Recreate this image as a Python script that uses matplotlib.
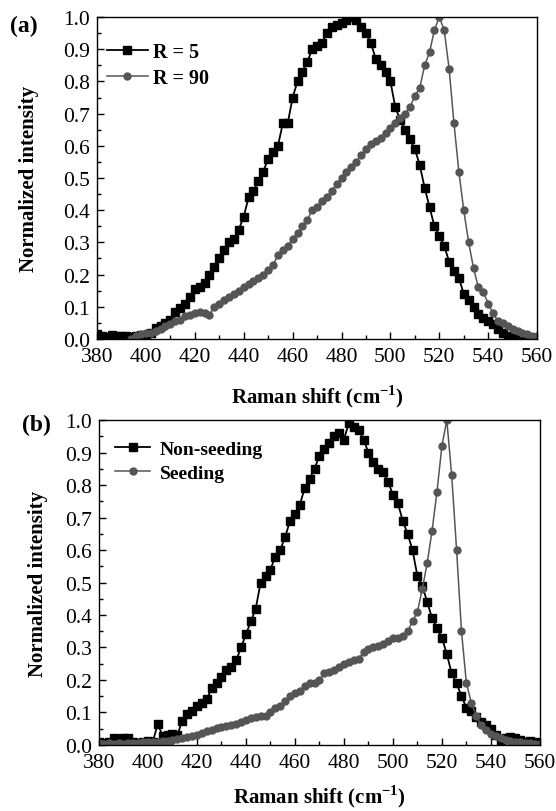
import numpy as np
import matplotlib
matplotlib.use("Agg")
from matplotlib import pyplot as plt
from matplotlib.ticker import MultipleLocator

plt.rcParams['font.family'] = ['Liberation Serif', 'DejaVu Serif']
plt.rcParams['mathtext.fontset'] = 'custom'
plt.rcParams['mathtext.rm'] = 'Liberation Serif'
plt.rcParams['mathtext.bf'] = 'Liberation Serif:bold'

# Raman shift grid (cm-1), one reading every 2 cm-1
shift = np.arange(380, 561, 2)

# panel (a)
r5 = [0.015, 0.010, 0.005, 0.012, 0.010, 0.008, 0.010, 0.005, 0.010, 0.012,
      0.010, 0.020, 0.035, 0.040, 0.050, 0.060, 0.085, 0.095, 0.110, 0.130,
      0.155, 0.160, 0.175, 0.200, 0.225, 0.250, 0.275, 0.300, 0.310, 0.340,
      0.380, 0.440, 0.460, 0.490, 0.520, 0.560, 0.580, 0.600, 0.670, 0.670,
      0.750, 0.800, 0.830, 0.860, 0.900, 0.910, 0.920, 0.950, 0.970, 0.975,
      0.980, 0.990, 1.000, 0.990, 0.970, 0.950, 0.920, 0.870, 0.850, 0.830,
      0.800, 0.720, 0.680, 0.650, 0.620, 0.590, 0.540, 0.470, 0.410, 0.350,
      0.320, 0.290, 0.240, 0.210, 0.190, 0.140, 0.120, 0.100, 0.078, 0.065,
      0.055, 0.045, 0.030, 0.020, 0.010, 0.003, 0.000, 0.000, 0.000, 0.000,
      0.000]
nan = np.nan
r90 = [nan, nan, nan, nan, nan, nan, nan, 0.000, 0.010, 0.015,
       0.020, 0.020, 0.025, 0.030, 0.040, 0.045, 0.055, 0.060, 0.070, 0.075,
       0.080, 0.085, 0.080, 0.075, 0.100, 0.110, 0.120, 0.130, 0.140, 0.150,
       0.160, 0.170, 0.180, 0.190, 0.200, 0.215, 0.230, 0.260, 0.275, 0.290,
       0.310, 0.330, 0.350, 0.370, 0.400, 0.410, 0.430, 0.440, 0.460, 0.480,
       0.500, 0.520, 0.535, 0.550, 0.570, 0.590, 0.605, 0.615, 0.625, 0.640,
       0.655, 0.670, 0.685, 0.700, 0.720, 0.755, 0.780, 0.850, 0.890, 0.960,
       1.000, 0.960, 0.840, 0.670, 0.520, 0.400, 0.300, 0.220, 0.160, 0.145,
       0.110, 0.080, 0.055, 0.050, 0.040, 0.030, 0.025, 0.020, 0.015, 0.010,
       0.010]

# panel (b)
non_seeding = [0.010, 0.005, 0.010, 0.020, 0.005, 0.020, 0.020, 0.010, 0.005, 0.010,
               0.012, 0.010, 0.065, 0.028, 0.030, 0.034, 0.030, 0.075, 0.095, 0.105,
               0.120, 0.130, 0.140, 0.175, 0.190, 0.210, 0.230, 0.240, 0.260, 0.300,
               0.340, 0.380, 0.420, 0.500, 0.520, 0.540, 0.580, 0.600, 0.640, 0.690,
               0.710, 0.740, 0.790, 0.820, 0.850, 0.890, 0.910, 0.930, 0.950, 0.960,
               0.940, 0.990, 0.980, 0.970, 0.940, 0.900, 0.870, 0.850, 0.840, 0.810,
               0.770, 0.745, 0.690, 0.650, 0.600, 0.520, 0.490, 0.440, 0.390, 0.360,
               0.330, 0.280, 0.220, 0.190, 0.150, 0.115, 0.105, 0.085, 0.070, 0.060,
               0.050, 0.030, 0.012, 0.020, 0.024, 0.020, 0.015, 0.010, 0.012, 0.010,
               nan]
seeding = [0.005, 0.004, 0.005, 0.003, 0.005, 0.004, 0.005, 0.006, 0.006, 0.008,
           0.010, 0.010, 0.010, 0.012, 0.013, 0.014, 0.017, 0.020, 0.024, 0.028,
           0.032, 0.038, 0.043, 0.047, 0.052, 0.055, 0.057, 0.060, 0.065, 0.072,
           0.078, 0.083, 0.086, 0.088, 0.090, 0.100, 0.115, 0.120, 0.135, 0.150,
           0.160, 0.167, 0.180, 0.190, 0.190, 0.200, 0.220, 0.225, 0.230, 0.240,
           0.250, 0.255, 0.260, 0.265, 0.285, 0.295, 0.300, 0.305, 0.310, 0.320,
           0.330, 0.330, 0.335, 0.350, 0.380, 0.410, 0.480, 0.560, 0.660, 0.780,
           0.920, 1.000, 0.830, 0.600, 0.350, 0.190, 0.130, 0.090, 0.060, 0.045,
           0.035, 0.028, 0.022, 0.016, 0.012, 0.010, 0.008, 0.006, 0.005, 0.004,
           0.003]

grey = '#555555'

fig = plt.figure(figsize=(5.56, 8.12), dpi=100)
ax_a = fig.add_axes([0.1745, 0.5813, 0.7915, 0.3965])
ax_b = fig.add_axes([0.178, 0.0813, 0.793, 0.4002])


def style_axes(ax, xlab_y, ylab_x):
    ax.set_xlim(380, 560)
    ax.set_ylim(0, 1.0)
    ax.xaxis.set_major_locator(MultipleLocator(20))
    ax.xaxis.set_minor_locator(MultipleLocator(10))
    ax.yaxis.set_major_locator(MultipleLocator(0.1))
    ax.yaxis.set_minor_locator(MultipleLocator(0.05))
    ax.tick_params(which='both', direction='in', top=False, right=False,
                   labelsize=15.5)
    ax.tick_params(axis='x', pad=6)
    ax.tick_params(axis='y', pad=5)
    ax.tick_params(which='major', length=5, width=1)
    ax.tick_params(which='minor', length=3, width=1)
    ax.set_yticklabels(['%.1f' % v for v in ax.get_yticks()])
    for s in ax.spines.values():
        s.set_linewidth(1.0)
    ax.set_xlabel(r'Raman shift (cm$^{\mathbf{-1}}$)', fontsize=15,
                  fontweight='bold', va='baseline')
    ax.xaxis.set_label_coords(0.5, xlab_y)
    ax.set_ylabel('Normalized intensity', fontsize=15, fontweight='bold')
    ax.yaxis.set_label_coords(ylab_x, 0.5)


ax_a.plot(shift, r5, color='black', lw=1.3, marker='s', ms=5.5, label='R = 5')
ax_a.plot(shift, r90, color=grey, lw=1.1, marker='o', ms=5, label='R = 90')
style_axes(ax_a, -0.196, -0.132)
ax_a.legend(loc='upper left', bbox_to_anchor=(0.005, 0.948), frameon=False,
            prop={'weight': 'bold', 'size': 14.5}, handlelength=2.0,
            handletextpad=0.26, labelspacing=0.3, borderaxespad=0)
fig.text(0.042, 0.968, '(a)', fontsize=17, fontweight='bold',
         ha='center', va='center')

ax_b.plot(shift, non_seeding, color='black', lw=1.3, marker='s', ms=5.5,
          label='Non-seeding')
ax_b.plot(shift, seeding, color=grey, lw=1.1, marker='o', ms=5,
          label='Seeding')
style_axes(ax_b, -0.175, -0.116)
ax_b.legend(loc='upper left', bbox_to_anchor=(0.019, 0.962), frameon=False,
            prop={'weight': 'bold', 'size': 14}, handlelength=1.8,
            handletextpad=0.5, labelspacing=0.35, borderaxespad=0)
fig.text(0.066, 0.476, '(b)', fontsize=17, fontweight='bold',
         ha='center', va='center')

fig.savefig('out.png', dpi=100)
